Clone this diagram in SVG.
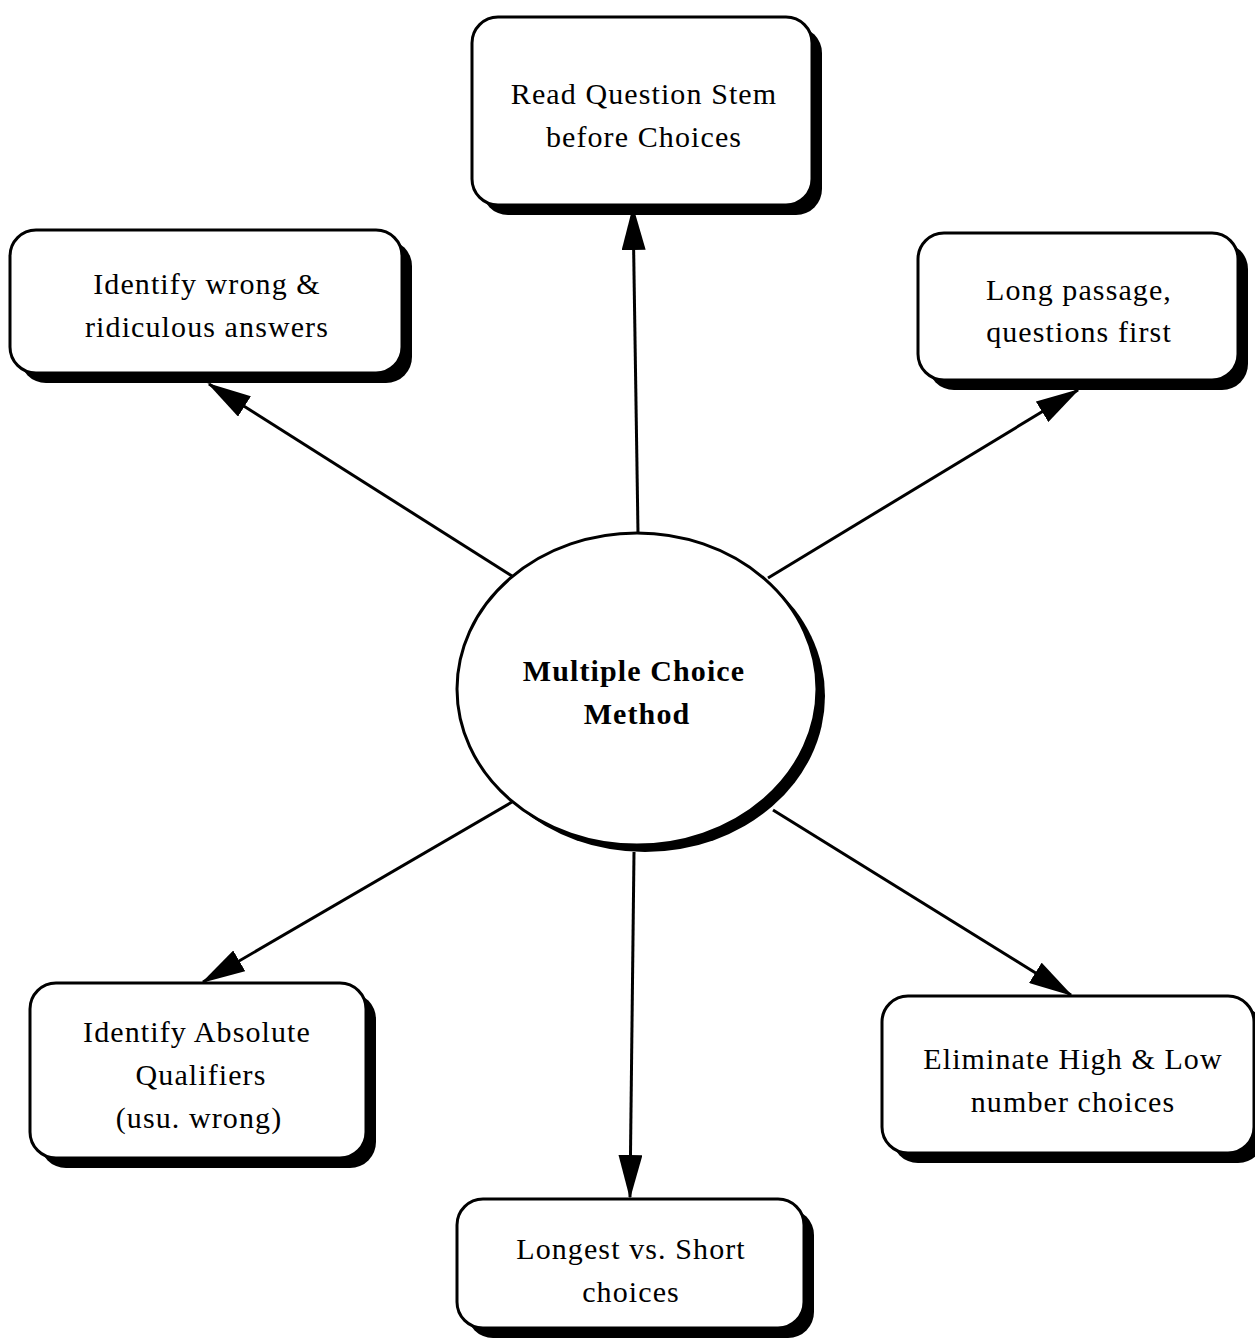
<svg xmlns="http://www.w3.org/2000/svg" width="1255" height="1339" viewBox="0 0 1255 1339">
<style>
.sh{fill:#000}
.bx{fill:#fff;stroke:#000;stroke-width:3}
.t{font-family:"Liberation Serif","Times New Roman",serif;font-size:30px;letter-spacing:1.1px;fill:#000;text-anchor:middle}
.b{font-weight:bold}
.c line{stroke:#000;stroke-width:3}
</style>
<defs>
<marker id="ah" markerUnits="userSpaceOnUse" markerWidth="44" markerHeight="24" refX="42" refY="12" orient="auto">
<path d="M0,0 L44,12 L0,24 z" fill="#000"/>
</marker>
</defs>
<rect width="1255" height="1339" fill="#fff"/>
<g class="c">
<line x1="638" y1="533" x2="633" y2="208" marker-end="url(#ah)"/>
<line x1="512" y1="576" x2="209" y2="384" marker-end="url(#ah)"/>
<line x1="768" y1="578" x2="1078" y2="390" marker-end="url(#ah)"/>
<line x1="512" y1="802" x2="203" y2="982" marker-end="url(#ah)"/>
<line x1="634" y1="852" x2="630" y2="1197" marker-end="url(#ah)"/>
<line x1="773" y1="810" x2="1071" y2="995" marker-end="url(#ah)"/>
</g>
<g id="center">
<ellipse class="sh" cx="645" cy="696" rx="180" ry="156"/>
<ellipse class="bx" cx="637" cy="689" rx="180" ry="156"/>
<text class="t b" x="634" y="681">Multiple Choice</text>
<text class="t b" x="637" y="724">Method</text>
</g>
<g id="n-top">
<rect class="sh" x="482" y="27" width="340" height="188" rx="26"/>
<rect class="bx" x="472" y="17" width="340" height="188" rx="26"/>
<text class="t" x="644" y="104">Read Question Stem</text>
<text class="t" x="644" y="147">before Choices</text>
</g>
<g id="n-topleft">
<rect class="sh" x="20" y="240" width="392" height="143" rx="26"/>
<rect class="bx" x="10" y="230" width="392" height="143" rx="26"/>
<text class="t" x="207" y="294">Identify wrong &amp;</text>
<text class="t" x="207" y="337">ridiculous answers</text>
</g>
<g id="n-topright">
<rect class="sh" x="928" y="243" width="320" height="147" rx="26"/>
<rect class="bx" x="918" y="233" width="320" height="147" rx="26"/>
<text class="t" x="1079" y="300">Long passage,</text>
<text class="t" x="1079" y="342">questions first</text>
</g>
<g id="n-botleft">
<rect class="sh" x="40" y="993" width="336" height="175" rx="26"/>
<rect class="bx" x="30" y="983" width="336" height="175" rx="26"/>
<text class="t" x="197" y="1042">Identify Absolute</text>
<text class="t" x="201" y="1085">Qualifiers</text>
<text class="t" x="199" y="1128">(usu. wrong)</text>
</g>
<g id="n-botright">
<rect class="sh" x="892" y="1006" width="372" height="157" rx="26"/>
<rect class="bx" x="882" y="996" width="372" height="157" rx="26"/>
<text class="t" x="1073" y="1069">Eliminate High &amp; Low</text>
<text class="t" x="1073" y="1112">number choices</text>
</g>
<g id="n-bottom">
<rect class="sh" x="467" y="1209" width="347" height="129" rx="26"/>
<rect class="bx" x="457" y="1199" width="347" height="129" rx="26"/>
<text class="t" x="631" y="1259">Longest vs. Short</text>
<text class="t" x="631" y="1302">choices</text>
</g>
</svg>
